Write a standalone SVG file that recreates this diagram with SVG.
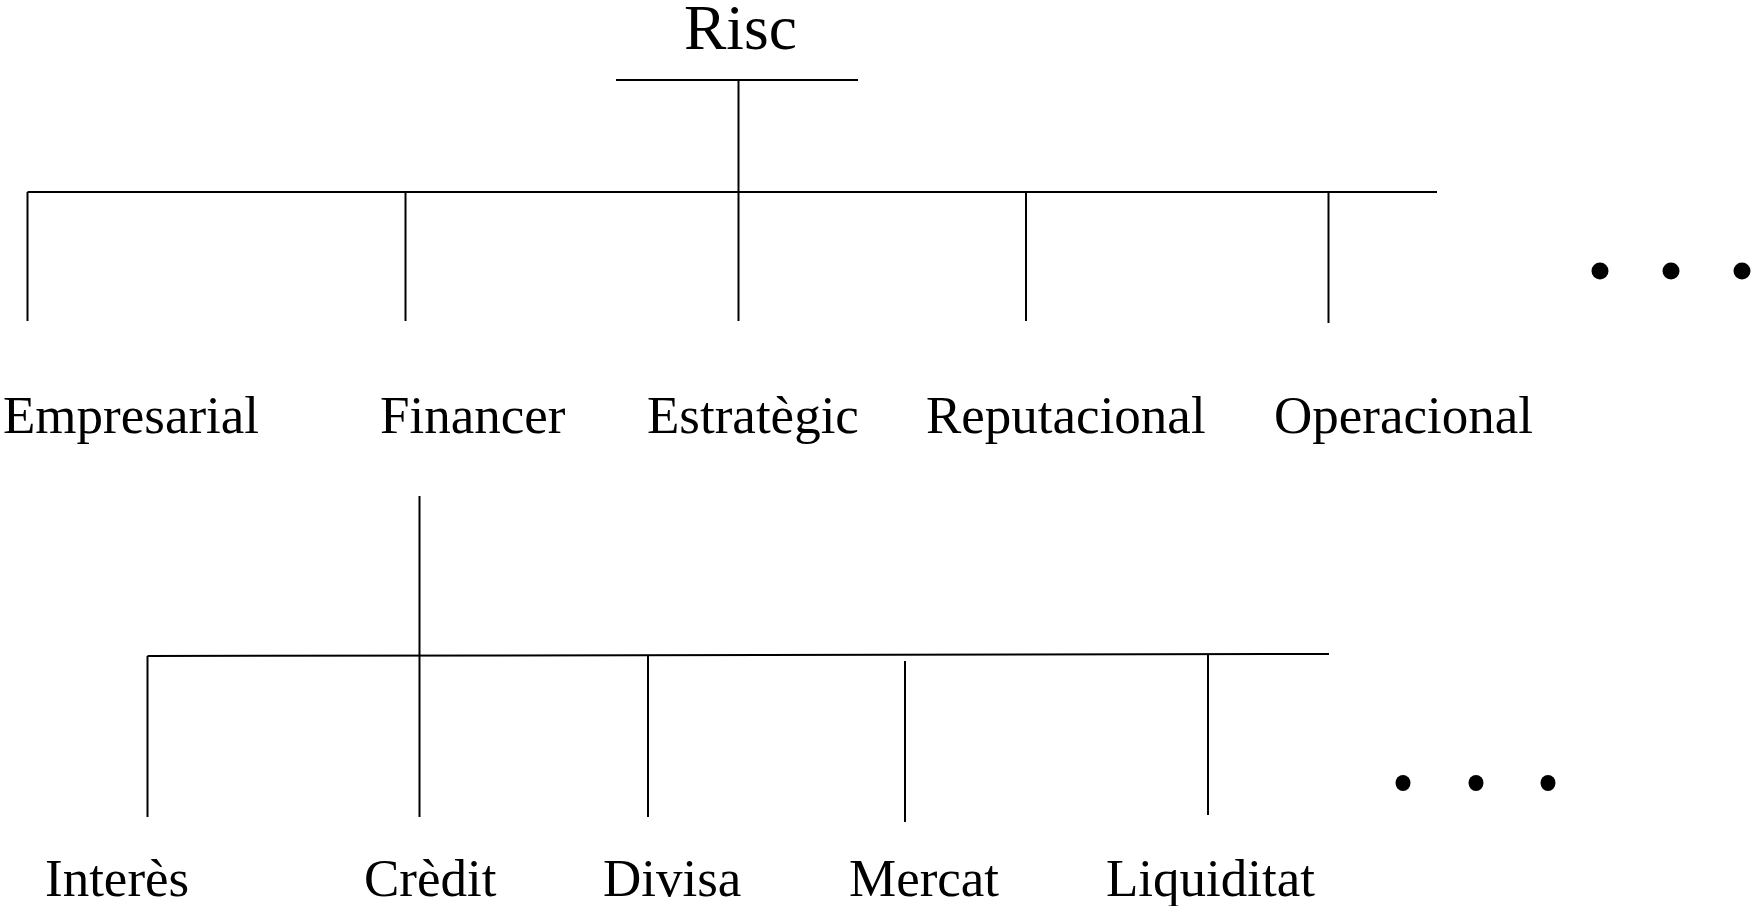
<svg xmlns="http://www.w3.org/2000/svg" width="1753" height="906" viewBox="0 0 1753 906">
<style>
.ln{stroke:#000;stroke-width:2;fill:none}
.t{font-family:"Liberation Serif","Times New Roman",serif;font-size:53px;fill:#000}
.r{font-family:"Liberation Serif","Times New Roman",serif;font-size:63.5px;fill:#000}
.d{fill:#000}
</style>
<rect width="1753" height="906" fill="#fff"/>
<g id="connectors">
<line class="ln" x1="616" y1="80" x2="858" y2="80"/>
<line class="ln" x1="738.5" y1="80" x2="738.5" y2="192"/>
<line class="ln" x1="27.5" y1="192" x2="1437" y2="192"/>
<line class="ln" x1="27.5" y1="192" x2="27.5" y2="321"/>
<line class="ln" x1="405.5" y1="192" x2="405.5" y2="321"/>
<line class="ln" x1="738.5" y1="192" x2="738.5" y2="321"/>
<line class="ln" x1="1026" y1="192" x2="1026" y2="321"/>
<line class="ln" x1="1328.5" y1="192" x2="1328.5" y2="323"/>
<line class="ln" x1="419.5" y1="496" x2="419.5" y2="817"/>
<line class="ln" x1="147.5" y1="656" x2="1329" y2="654"/>
<line class="ln" x1="147.5" y1="656" x2="147.5" y2="817"/>
<line class="ln" x1="648" y1="655.5" x2="648" y2="817"/>
<line class="ln" x1="905" y1="661" x2="905" y2="822"/>
<line class="ln" x1="1208" y1="654.5" x2="1208" y2="815"/>
</g>
<g id="risc"><text class="r" x="684" y="49">Risc</text></g>
<g id="empresarial"><text class="t" x="3" y="433">Empresarial</text></g>
<g id="financer"><text class="t" x="380" y="433">Financer</text></g>
<g id="estrategic"><text class="t" x="647" y="433">Estratègic</text></g>
<g id="reputacional"><text class="t" x="926" y="433">Reputacional</text></g>
<g id="operacional"><text class="t" x="1274" y="433">Operacional</text></g>
<g id="more1">
<ellipse class="d" cx="1600" cy="271" rx="8.5" ry="8.5"/>
<ellipse class="d" cx="1671" cy="271" rx="8.5" ry="8.5"/>
<ellipse class="d" cx="1742" cy="271" rx="8.5" ry="8.5"/>
</g>
<g id="interes"><text class="t" x="45" y="896">Interès</text></g>
<g id="credit"><text class="t" x="364" y="896">Crèdit</text></g>
<g id="divisa"><text class="t" x="603" y="896">Divisa</text></g>
<g id="mercat"><text class="t" x="849" y="896">Mercat</text></g>
<g id="liquiditat"><text class="t" x="1106" y="896">Liquiditat</text></g>
<g id="more2">
<ellipse class="d" cx="1403" cy="783" rx="7.5" ry="8"/>
<ellipse class="d" cx="1476" cy="783" rx="7.5" ry="8"/>
<ellipse class="d" cx="1548" cy="783" rx="7.5" ry="8"/>
</g>
</svg>
